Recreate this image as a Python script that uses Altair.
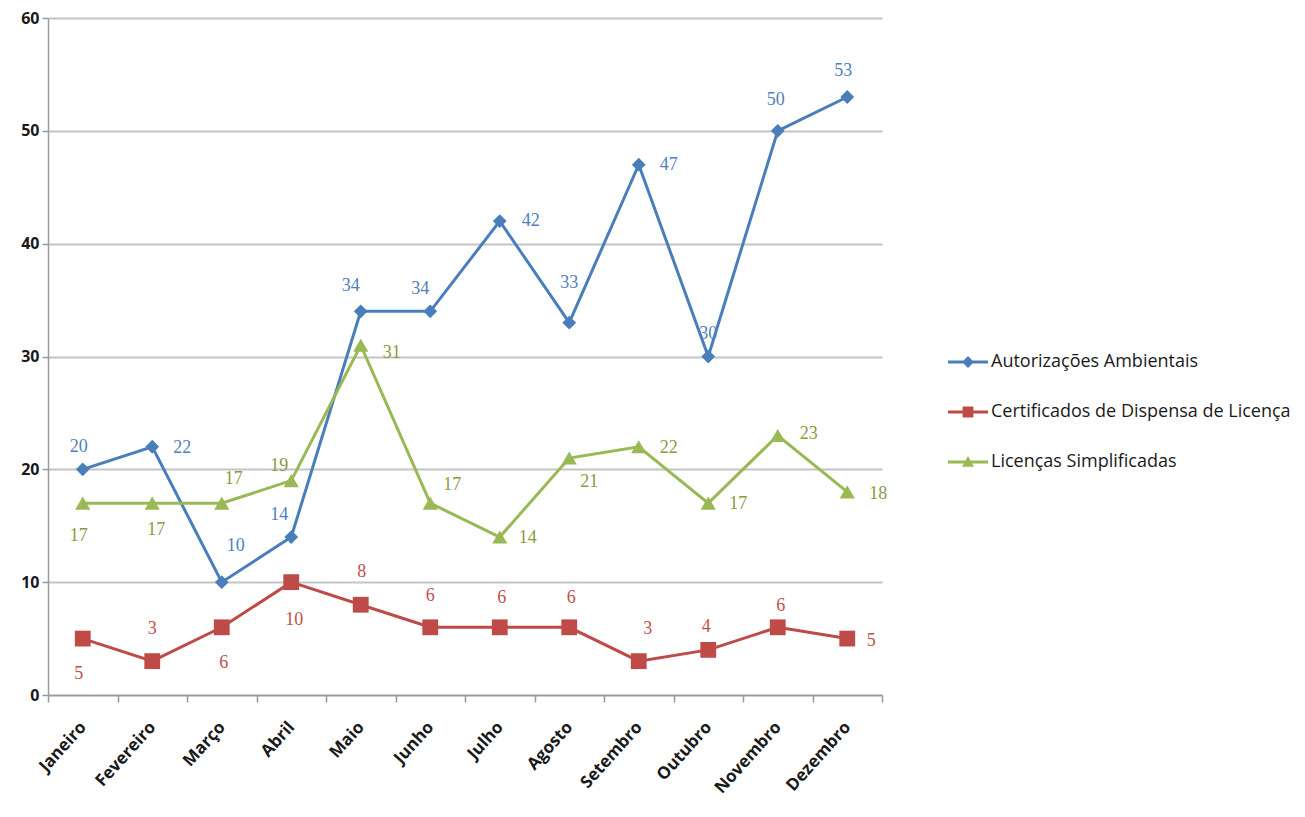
import altair as alt
import pandas as pd

months = ["Janeiro", "Fevereiro", "Março", "Abril", "Maio", "Junho",
          "Julho", "Agosto", "Setembro", "Outubro", "Novembro", "Dezembro"]

series_names = ["Autorizações Ambientais",
                "Certificados de Dispensa de Licença",
                "Licenças Simplificadas"]

autorizacoes = [20, 22, 10, 14, 34, 34, 42, 33, 47, 30, 50, 53]
certificados = [5, 3, 6, 10, 8, 6, 6, 6, 3, 4, 6, 5]
licencas = [17, 17, 17, 19, 31, 17, 14, 21, 22, 17, 23, 18]

# data-label placement offsets (pixels) relative to each point
autorizacoes_label_dx = [-4, 30, 14, -12, -10, -10, 31, 0, 30, 0, -2, -4]
autorizacoes_label_dy = [-22, 1, -36, -22, -25, -22, 0, -40, 0, -23, -31, -26]
certificados_label_dx = [-4, 0, 2, 3, 1, 0, 2, 2, 9, -2, 3, 24]
certificados_label_dy = [35, -32, 36, 38, -33, -31, -29, -29, -32, -23, -21, 2]
licencas_label_dx = [-4, 4, 12, -12, 31, 22, 28, 20, 30, 30, 31, 31]
licencas_label_dy = [33, 27, -24, -15, 8, -18, 1, 24, 1, 1, -1, 2]

line_colors = ["#4a7ebb", "#be4b48", "#98b954"]
label_colors = ["#4f81bd", "#c0504d", "#8a9a3e"]
marker_shapes = ["diamond", "square", "triangle-up"]
marker_sizes = [190, 250, 230]
legend_paths = [
    "M-1,-0.07H1V0.07H-1Z M0,-0.3L0.3,0L0,0.3L-0.3,0Z",
    "M-1,-0.07H1V0.07H-1Z M-0.27,-0.27H0.27V0.27H-0.27Z",
    "M-1,-0.07H1V0.07H-1Z M0,-0.3L0.3,0.24H-0.3Z",
]

values = [autorizacoes, certificados, licencas]
dxs = [autorizacoes_label_dx, certificados_label_dx, licencas_label_dx]
dys = [autorizacoes_label_dy, certificados_label_dy, licencas_label_dy]

rows = []
for s, vals, dx, dy in zip(series_names, values, dxs, dys):
    for m, v, a, b in zip(months, vals, dx, dy):
        rows.append({"month": m, "series": s, "value": v, "dx": a, "dy": b})
df = pd.DataFrame(rows)

x_enc = alt.X("month:N", sort=months, title=None,
              scale=alt.Scale(type="band", paddingInner=0, paddingOuter=0),
              axis=alt.Axis(labelAngle=-48, tickBand="extent", grid=False,
                            domainColor="#9a9a9a", domainWidth=1.5,
                            tickColor="#9a9a9a", tickSize=7, tickWidth=1.5,
                            labelFont="Open Sans", labelFontSize=17,
                            labelFontWeight="bold", labelColor="#1a1a1a",
                            labelPadding=22))
y_enc = alt.Y("value:Q", title=None,
              scale=alt.Scale(domain=[0, 60], nice=False),
              axis=alt.Axis(values=list(range(0, 61, 10)), grid=True,
                            gridColor="#c4c4c4", gridWidth=2,
                            domainColor="#9a9a9a", domainWidth=1.5,
                            tickColor="#9a9a9a", tickSize=6, tickWidth=1.5,
                            labelFont="Open Sans", labelFontSize=16,
                            labelFontWeight="bold", labelColor="#1a1a1a",
                            labelPadding=3))

base = alt.Chart(df)

layers = []
# one line + marker layer per series, constant colours (no shared colour legend)
for i, s in enumerate(series_names):
    sub = base.transform_filter(alt.datum.series == s)
    layers.append(sub.mark_line(strokeWidth=3, color=line_colors[i]).encode(
        x=x_enc, y=y_enc))
for i, s in enumerate(series_names):
    sub = base.transform_filter(alt.datum.series == s)
    layers.append(sub.mark_point(
        filled=True, opacity=1, shape=marker_shapes[i], size=marker_sizes[i],
        color=line_colors[i]
    ).encode(x=x_enc, y=y_enc))

# data labels, grouped by unique offsets
combos = df[["series", "dx", "dy"]].drop_duplicates().values.tolist()
for s, a, b in combos:
    i = series_names.index(s)
    t = base.transform_filter(
        (alt.datum.series == s) & (alt.datum.dx == a) & (alt.datum.dy == b)
    ).mark_text(
        font="Liberation Serif", fontSize=18, color=label_colors[i],
        dx=int(a), dy=int(b), align="center", baseline="middle"
    ).encode(x=x_enc, y=y_enc, text="value:Q")
    layers.append(t)

legend_props = dict(title=None, orient="none", legendX=900, legendY=324,
                    symbolSize=1600, labelFont="Open Sans", labelFontSize=18,
                    labelColor="#1a1a1a", labelLimit=500, labelOffset=3,
                    rowPadding=21, padding=0, symbolStrokeWidth=0,
                    symbolOpacity=1)

# legend-only layer (invisible points; legend via fill + shape)
legend_layer = base.mark_point(filled=True, opacity=0).encode(
    x=x_enc, y=y_enc,
    fill=alt.Fill("series:N",
                  scale=alt.Scale(domain=series_names, range=line_colors),
                  legend=alt.Legend(**legend_props)),
    shape=alt.Shape("series:N",
                    scale=alt.Scale(domain=series_names, range=legend_paths),
                    legend=alt.Legend(**legend_props)),
)
layers.append(legend_layer)

chart = alt.layer(*layers).properties(
    width=834, height=677,
    background="white",
    autosize=alt.AutoSizeParams(type="none"),
    padding={"left": 40, "top": 10, "right": 415, "bottom": 114},
).configure_view(stroke=None)

chart.save("out.html", embed_options={"renderer": "svg", "actions": False})
